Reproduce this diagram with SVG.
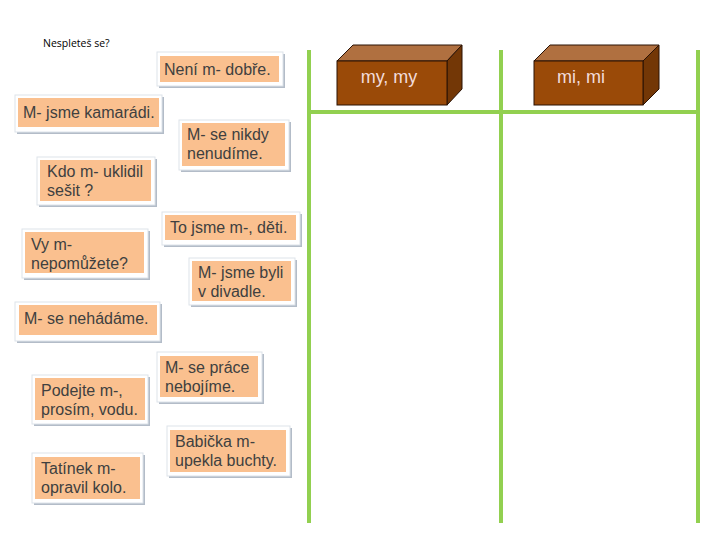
<svg xmlns="http://www.w3.org/2000/svg" width="720" height="540" viewBox="0 0 720 540">
<defs>
<style>
.outer{fill:#ffffff;stroke:#dde3ea;stroke-width:1}
.shadow{fill:#b3bcc8}
.inner{fill:#fac08f}
.t{font-family:"Liberation Sans",Arial,sans-serif;font-size:16px;fill:#404040}
.grid{stroke:#92d050;stroke-width:4;fill:none}
.front{fill:#9a4a08;stroke:#2a1205;stroke-width:1}
.top{fill:#b07040;stroke:#2a1205;stroke-width:1}
.side{fill:#733706;stroke:#2a1205;stroke-width:1}
.bt{font-family:"Liberation Sans",Arial,sans-serif;font-size:18px;fill:#f2dcdb;text-anchor:middle}
</style>
</defs>
<rect width="720" height="540" fill="#ffffff"/>
<text x="43" y="47" font-family="'Open Sans','Liberation Sans',sans-serif" font-size="10.5" fill="#000">Nespleteš se?</text>

<g id="connectors">
<line class="grid" x1="309" y1="50" x2="309" y2="523"/>
<line class="grid" x1="501" y1="50" x2="501" y2="523"/>
<line class="grid" x1="698" y1="50" x2="698" y2="523"/>
<line class="grid" x1="309" y1="112" x2="698" y2="112"/>
</g>

<g id="box-my">
<polygon class="top" points="337,61 353,45 462,45 447,61"/>
<polygon class="side" points="447,61 462,45 462,89 447,105"/>
<rect class="front" x="337" y="61" width="110" height="44"/>
<text class="bt" x="389" y="83">my, my</text>
</g>
<g id="box-mi">
<polygon class="top" points="534,61 550,45 659,45 643,61"/>
<polygon class="side" points="643,61 659,45 659,89 643,105"/>
<rect class="front" x="534" y="61" width="109" height="44"/>
<text class="bt" x="581" y="83">mi, mi</text>
</g>

<g id="n1">
<rect class="shadow" x="159" y="54" width="126" height="34"/>
<rect class="outer" x="157" y="52" width="126" height="34"/>
<rect class="inner" x="160" y="56" width="119" height="26"/>
<text class="t" x="164" y="75">Není m- dobře.</text>
</g>
<g id="n2">
<rect class="shadow" x="17" y="97" width="147" height="37"/>
<rect class="outer" x="15" y="95" width="147" height="37"/>
<rect class="inner" x="18" y="98" width="141" height="29"/>
<text class="t" x="23" y="118">M- jsme kamarádi.</text>
</g>
<g id="n3">
<rect class="shadow" x="181" y="122" width="110" height="50"/>
<rect class="outer" x="179" y="120" width="110" height="50"/>
<rect class="inner" x="182" y="123" width="103" height="43"/>
<text class="t" x="187" y="140">M- se nikdy</text>
<text class="t" x="187" y="159">nenudíme.</text>
</g>
<g id="n4">
<rect class="shadow" x="39" y="159" width="118" height="48"/>
<rect class="outer" x="37" y="157" width="118" height="48"/>
<rect class="inner" x="40" y="160" width="111" height="41"/>
<text class="t" x="47" y="177">Kdo m- uklidil</text>
<text class="t" x="47" y="196">sešit ?</text>
</g>
<g id="n5">
<rect class="shadow" x="164" y="214" width="138" height="33"/>
<rect class="outer" x="162" y="212" width="138" height="33"/>
<rect class="inner" x="165" y="215" width="131" height="25"/>
<text class="t" x="170" y="233">To jsme m-, děti.</text>
</g>
<g id="n6">
<rect class="shadow" x="24" y="231" width="126" height="49"/>
<rect class="outer" x="22" y="229" width="126" height="49"/>
<rect class="inner" x="25" y="232" width="119" height="41"/>
<text class="t" x="31" y="250">Vy m-</text>
<text class="t" x="31" y="269">nepomůžete?</text>
</g>
<g id="n7">
<rect class="shadow" x="191" y="260" width="106" height="47"/>
<rect class="outer" x="189" y="258" width="106" height="47"/>
<rect class="inner" x="192" y="261" width="99" height="40"/>
<text class="t" x="198" y="278">M- jsme byli</text>
<text class="t" x="198" y="297">v divadle.</text>
</g>
<g id="n8">
<rect class="shadow" x="17" y="304" width="145" height="39"/>
<rect class="outer" x="15" y="302" width="145" height="39"/>
<rect class="inner" x="19" y="305" width="138" height="30"/>
<text class="t" x="24" y="324">M- se nehádáme.</text>
</g>
<g id="n9">
<rect class="shadow" x="159" y="354" width="105" height="50"/>
<rect class="outer" x="157" y="352" width="105" height="50"/>
<rect class="inner" x="160" y="356" width="98" height="41"/>
<text class="t" x="165" y="373">M- se práce</text>
<text class="t" x="165" y="392">nebojíme.</text>
</g>
<g id="n10">
<rect class="shadow" x="34" y="377" width="116" height="49"/>
<rect class="outer" x="32" y="375" width="116" height="49"/>
<rect class="inner" x="35" y="378" width="110" height="42"/>
<text class="t" x="41" y="396">Podejte m-,</text>
<text class="t" x="41" y="415">prosím, vodu.</text>
</g>
<g id="n11">
<rect class="shadow" x="169" y="428" width="123" height="50"/>
<rect class="outer" x="167" y="426" width="123" height="50"/>
<rect class="inner" x="170" y="430" width="116" height="42"/>
<text class="t" x="175" y="447">Babička m-</text>
<text class="t" x="175" y="466">upekla buchty.</text>
</g>
<g id="n12">
<rect class="shadow" x="34" y="455" width="111" height="50"/>
<rect class="outer" x="32" y="453" width="111" height="50"/>
<rect class="inner" x="35" y="457" width="105" height="42"/>
<text class="t" x="41" y="474">Tatínek m-</text>
<text class="t" x="41" y="493">opravil kolo.</text>
</g>
</svg>
